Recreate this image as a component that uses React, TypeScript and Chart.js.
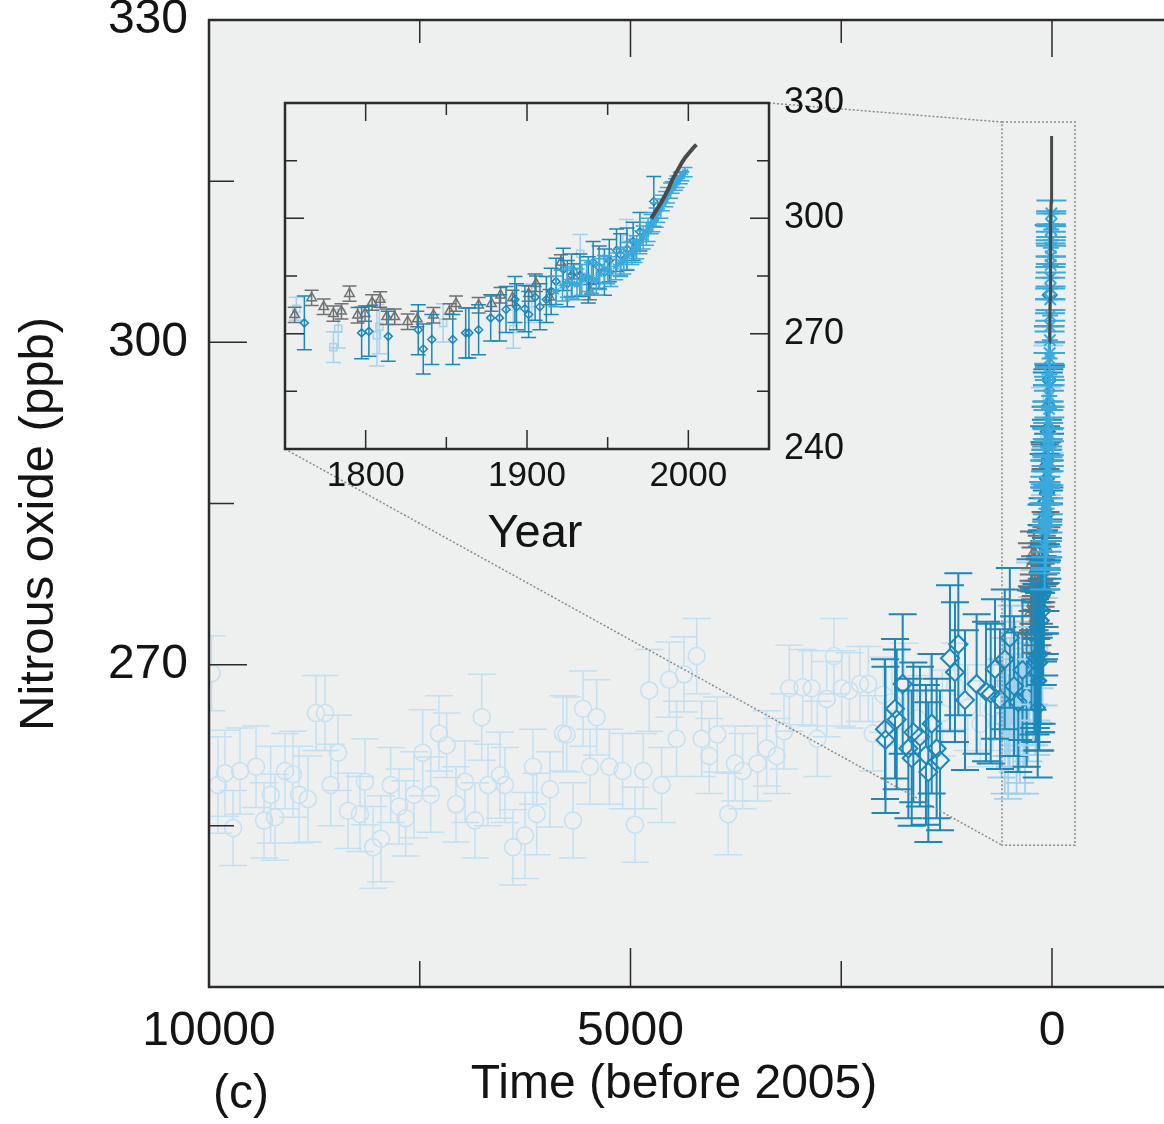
import React, { useEffect, useRef } from 'react';
import { Chart, registerables } from 'chart.js';

Chart.register(...registerables);

const FONT = '"Liberation Sans", Arial, Helvetica, sans-serif';
const TXT = '#141414';
const AXIS = '#2b2b2b';
const BG = '#eeefef';
const REF_YEAR = 2005;

const INSET_LEFT = 270;
const INSET_TOP = 60;

// ---------- axes ----------
const MAIN_X_MAX = 10000;
const MAIN_X_MIN = -961;
const Y_MIN = 240;
const Y_MAX = 330;
const mainXTicks = [7500, 5000, 2500, 0];
const mainXLabelled = [10000, 5000, 0];
const mainYTicks = [255, 270, 285, 300, 315];
const mainYLabelled = [270, 300, 330];
const insetXMin = 1750;
const insetXMax = 2050;
const insetXTicks = [1800, 1850, 1900, 1950, 2000];
const insetXLabelled = [1800, 1900, 2000];
const insetYTicks = [255, 270, 285, 300, 315];
const insetYLabelled = [240, 270, 300, 330];

// ---------- main chart data (years before 2005) ----------
// Holocene ice-core record (pale circles)
const holoceneBP = [9968, 9893, 9810, 9715, 9632, 9442, 9347, 9268, 9217, 9098, 9004, 8932, 8826, 8731, 8624, 8556, 8470, 8351, 8209, 8150, 8054, 7960, 7845, 7746, 7667, 7568, 7465, 7370, 7272, 7181, 7070, 6963, 6845, 6765, 6690, 6548, 6489, 6394, 6252, 6157, 6113, 5955, 5801, 5757, 5682, 5563, 5480, 5401, 5251, 5093, 4947, 4849, 4778, 4631, 4540, 4453, 4366, 4215, 4156, 4066, 3971, 3841, 3761, 3670, 3492, 3385, 3266, 3179, 3116, 2958, 2851, 2784, 2673, 2586, 2495, 2404, 2278, 2179, 2127, 2001, 1900, 1750, 1600, 1450, 1300, 1150, 1000, 850, 700];
const holocenePpb = [269.2, 258.8, 259.9, 254.8, 260.1, 260.5, 255.5, 257.9, 255.8, 260.1, 259.8, 257.9, 257.5, 265.5, 265.5, 258.8, 261.8, 256.4, 256.1, 259.1, 253.0, 253.8, 258.8, 256.8, 255.7, 257.9, 261.8, 257.9, 263.6, 262.5, 257.0, 259.1, 255.5, 265.1, 258.8, 259.7, 258.8, 253.0, 254.1, 260.5, 256.1, 258.4, 263.6, 263.5, 255.5, 265.9, 260.5, 265.1, 260.5, 260.1, 255.1, 260.1, 267.6, 258.8, 268.6, 263.1, 269.1, 270.8, 263.1, 261.5, 263.5, 256.1, 260.8, 260.1, 260.8, 262.2, 261.5, 263.8, 267.8, 267.9, 267.8, 263.1, 266.8, 270.8, 267.8, 267.6, 268.2, 268.2, 263.6, 267.2, 266.5, 268.0, 265.0, 267.0, 265.5, 268.0, 266.0, 264.5, 266.0];
const holoceneErr = [3.5, 4.5, 4.0, 3.5, 4.0, 3.8, 3.5, 4.5, 4.0, 3.5, 4.0, 4.5, 4.0, 3.5, 3.5, 3.8, 3.5, 3.5, 3.5, 4.0, 3.8, 4.0, 3.5, 3.5, 3.5, 4.0, 4.0, 3.5, 3.5, 3.0, 3.5, 3.8, 3.5, 4.0, 3.8, 4.0, 3.5, 3.5, 4.0, 3.5, 3.8, 3.5, 3.5, 3.5, 3.5, 3.5, 3.5, 3.5, 3.5, 3.5, 3.5, 3.5, 3.8, 3.5, 3.5, 3.5, 3.5, 3.5, 3.5, 3.5, 3.5, 3.8, 3.5, 3.5, 3.5, 3.5, 3.5, 3.5, 4.0, 3.5, 3.5, 3.5, 3.5, 3.5, 3.5, 3.5, 3.5, 3.5, 3.5, 3.5, 4.0, 4.0, 4.0, 4.0, 4.0, 4.0, 4.0, 4.0, 4.0];

// Late-Holocene record (dark diamonds)
const lateBP = [1981, 1975, 1862, 1842, 1771, 1704, 1664, 1645, 1566, 1495, 1467, 1427, 1368, 1328, 1210, 1151, 1111, 1032, 894, 783, 727, 676, 617, 560, 500, 450, 400, 350, 300];
const latePpb = [264.0, 263.0, 265.9, 264.9, 268.2, 262.2, 261.3, 263.7, 263.3, 261.6, 260.0, 264.5, 262.2, 261.1, 270.6, 269.3, 271.9, 266.7, 268.2, 267.5, 267.3, 269.6, 266.8, 270.5, 272.5, 268.0, 266.5, 269.5, 267.0];
const lateErr = [6.5, 6.8, 6.5, 6.5, 6.5, 6.5, 6.3, 6.5, 6.5, 6.5, 6.5, 6.5, 6.5, 6.5, 6.8, 6.5, 6.6, 6.5, 6.5, 6.5, 6.5, 6.5, 6.5, 6.5, 6.5, 6.5, 6.5, 6.5, 6.5];

// Pre-industrial cluster (pale squares)
const preindBP = [600, 580, 560, 540, 520, 500, 480, 460, 440, 420, 400, 380, 360, 340, 320, 300, 280, 265];
const preindPpb = [265.0, 268.5, 264.0, 267.0, 263.0, 266.5, 270.0, 265.5, 268.0, 263.5, 267.5, 265.0, 269.0, 266.0, 264.0, 268.0, 266.5, 270.0];
const preindErr = [5.5, 5.5, 6.0, 5.5, 5.5, 6.0, 5.5, 5.5, 6.0, 5.5, 5.5, 6.0, 5.5, 5.5, 6.0, 5.5, 5.5, 5.5];

// ---------- industrial era data (calendar years) ----------
const triYears = [1756, 1766.5, 1774, 1780, 1785, 1790, 1795, 1799.6, 1804, 1809, 1813, 1818, 1826, 1832, 1842, 1852, 1856, 1870, 1878, 1883.6, 1891, 1901, 1905.6, 1914, 1921, 1929, 1939];
const triPpb = [274.9, 279.3, 277.0, 275.2, 275.8, 280.4, 274.8, 275.2, 278.1, 278.9, 274.4, 274.4, 273.1, 273.8, 274.8, 275.8, 277.8, 277.4, 277.8, 280.0, 279.3, 280.4, 283.0, 279.5, 288.5, 286.2, 280.8];
const triErr = [2.0, 2.0, 2.0, 2.0, 2.0, 2.0, 2.0, 2.0, 2.0, 2.0, 2.0, 2.0, 2.0, 2.0, 2.0, 2.0, 2.0, 2.0, 2.0, 2.0, 2.0, 2.0, 2.0, 2.0, 2.0, 2.0, 2.0];

const dmdYears = [1762, 1797.5, 1802, 1814, 1832.6, 1835.7, 1841, 1854, 1862, 1864, 1870, 1877.5, 1883, 1887, 1892.5, 1893.5, 1898.7, 1901, 1905, 1908, 1912, 1915, 1918, 1922.5, 1925, 1927.6, 1932.8, 1938, 1941, 1944.7, 1948, 1951, 1955.5, 1958, 1962, 1965.8, 1970, 1978.6];
const dmdPpb = [272.8, 270.2, 270.6, 269.3, 271.0, 266.0, 268.5, 268.5, 270.2, 270.2, 271.0, 274.1, 274.1, 276.3, 278.9, 277.0, 276.5, 275.0, 279.5, 277.0, 278.9, 281.0, 283.6, 286.7, 283.0, 285.2, 285.2, 284.0, 288.5, 287.3, 286.0, 289.0, 291.7, 290.5, 292.0, 294.0, 296.5, 304.4];
const dmdErr = [7.0, 6.7, 6.5, 6.5, 6.5, 6.5, 6.5, 6.5, 6.5, 6.5, 6.5, 6.0, 6.0, 6.0, 6.0, 6.0, 6.0, 6.0, 6.0, 6.0, 6.0, 6.0, 6.0, 5.5, 6.0, 5.5, 5.5, 6.0, 5.5, 5.5, 6.0, 5.5, 5.5, 5.5, 5.5, 5.0, 5.0, 6.5];

const sqYears = [1757, 1780, 1783, 1807, 1808.5, 1848, 1891.5, 1903, 1933, 1961.7];
const sqPpb = [276.5, 266.5, 271.3, 269.6, 271.8, 272.8, 271.2, 277.9, 290.8, 294.7];
const sqErr = [3.0, 4.0, 5.0, 8.0, 7.0, 5.0, 5.0, 5.0, 5.0, 5.0];

const starYears = [1918, 1922, 1925, 1928, 1931, 1934, 1937, 1940, 1943, 1945, 1948, 1950, 1952, 1955, 1958, 1960, 1962, 1965, 1967, 1968, 1970, 1972, 1974, 1975, 1977, 1978, 1980, 1981, 1983, 1984, 1986, 1987, 1989, 1990, 1992, 1993, 1995, 1996, 1998];
const starPpb = [281.0, 282.5, 283.5, 283.0, 282.8, 284.0, 285.0, 284.5, 284.0, 285.5, 286.8, 286.5, 285.8, 287.5, 288.4, 289.0, 290.2, 291.0, 291.5, 292.5, 293.8, 295.0, 296.0, 297.0, 298.5, 299.0, 300.2, 301.5, 302.5, 304.0, 305.0, 306.0, 307.2, 308.0, 308.8, 309.5, 310.5, 311.0, 312.0];
const starErr = [4.0, 4.0, 4.0, 4.0, 4.0, 4.0, 4.0, 4.0, 4.0, 4.0, 3.5, 3.5, 3.5, 3.5, 3.5, 3.5, 3.5, 3.0, 3.0, 3.0, 3.0, 3.0, 3.0, 3.0, 2.5, 2.5, 2.5, 2.5, 2.5, 2.0, 2.0, 2.0, 2.0, 1.5, 1.5, 1.5, 1.5, 1.2, 1.2];

const lineYears = [1977, 1980, 1983, 1986, 1988, 1990, 1992, 1994, 1996, 1998, 2000, 2003, 2005];
const linePpb = [300.0, 302.0, 304.0, 306.3, 308.0, 310.0, 311.5, 313.0, 314.5, 315.8, 316.8, 318.3, 319.2];

// zoom box in the main panel (years before 2005, ppb)
const zoomBoxBP = [593, -273];
const zoomBoxPpb = [253.2, 320.5];

// ---------- colours ----------
const C_PALE = '#c3e0f1';
const C_PREIND = '#a0d0ec';
const C_DARK = '#1c87b9';
const C_CYAN = '#3aa9dc';
const C_GRAY = '#717171';
const C_LINE = '#4a4a4a';
const C_SQ = '#a5d2ec';

const pts = (xs: number[], ys: number[]) => xs.map((x, i) => ({ x, y: ys[i] }));
const toBP = (years: number[]) => years.map((y) => REF_YEAR - y);

function markerSet(opts: any) {
  return {
    type: 'scatter',
    showLine: false,
    pointStyle: opts.style,
    pointRadius: opts.r,
    pointHoverRadius: opts.r,
    pointBorderColor: opts.color,
    pointBackgroundColor: 'rgba(0,0,0,0)',
    pointBorderWidth: opts.bw,
    borderColor: opts.color,
    backgroundColor: 'rgba(0,0,0,0)',
    data: opts.data,
    errors: opts.err,
    capHalf: opts.cap,
    errGap: opts.gap || 0,
    errWidth: opts.ew,
    order: opts.order,
  } as any;
}

const errorBarPlugin = {
  id: 'errorBars',
  beforeDatasetDraw(chart: any, args: any) {
    const ds = chart.data.datasets[args.index];
    if (!ds.errors) return;
    const { ctx, chartArea: a } = chart;
    const xs = chart.scales.x;
    const ys = chart.scales.y;
    ctx.save();
    ctx.beginPath();
    ctx.rect(a.left, a.top, a.right - a.left, a.bottom - a.top);
    ctx.clip();
    ctx.strokeStyle = ds.borderColor;
    ctx.lineWidth = ds.errWidth;
    ds.data.forEach((p: any, i: number) => {
      const e = ds.errors[i];
      const px = xs.getPixelForValue(p.x);
      const py = ys.getPixelForValue(p.y);
      const yt = ys.getPixelForValue(p.y + e);
      const yb = ys.getPixelForValue(p.y - e);
      const c = ds.capHalf;
      const g = ds.errGap;
      ctx.beginPath();
      if (g > 0) {
        if (py - g > yt) { ctx.moveTo(px, yt); ctx.lineTo(px, py - g); }
        if (py + g < yb) { ctx.moveTo(px, py + g); ctx.lineTo(px, yb); }
      } else {
        ctx.moveTo(px, yt);
        ctx.lineTo(px, yb);
      }
      ctx.moveTo(px - c, yt); ctx.lineTo(px + c, yt);
      ctx.moveTo(px - c, yb); ctx.lineTo(px + c, yb);
      ctx.stroke();
    });
    ctx.restore();
  },
};

function bgPlugin(extendRight: boolean) {
  return {
    id: 'plotBg',
    beforeDraw(chart: any) {
      const { ctx, chartArea: a } = chart;
      ctx.save();
      ctx.fillStyle = BG;
      ctx.fillRect(a.left, a.top, (extendRight ? chart.width : a.right) - a.left, a.bottom - a.top);
      ctx.restore();
    },
  };
}

function mainConfig(insetBox: { left: number; top: number; right: number; bottom: number }): any {
  const framePlugin = {
    id: 'mainFrame',
    afterDraw(chart: any) {
      const { ctx, chartArea: a } = chart;
      const x = chart.scales.x;
      const y = chart.scales.y;
      ctx.save();
      // zoom box and connectors
      ctx.strokeStyle = '#8a8a8a';
      ctx.lineWidth = 1.5;
      ctx.setLineDash([2, 2]);
      const bl = x.getPixelForValue(zoomBoxBP[0]);
      const br = x.getPixelForValue(zoomBoxBP[1]);
      const bt = y.getPixelForValue(zoomBoxPpb[1]);
      const bb = y.getPixelForValue(zoomBoxPpb[0]);
      ctx.strokeRect(bl, bt, br - bl, bb - bt);
      ctx.beginPath();
      ctx.moveTo(insetBox.right, insetBox.top);
      ctx.lineTo(bl, bt);
      ctx.moveTo(insetBox.left, insetBox.bottom);
      ctx.lineTo(bl, bb);
      ctx.stroke();
      ctx.setLineDash([]);

      // axis lines (left, top, bottom)
      ctx.strokeStyle = AXIS;
      ctx.lineWidth = 2.5;
      ctx.beginPath();
      ctx.moveTo(chart.width, a.top);
      ctx.lineTo(a.left, a.top);
      ctx.lineTo(a.left, a.bottom);
      ctx.lineTo(chart.width, a.bottom);
      ctx.stroke();

      // inward tick marks
      ctx.lineWidth = 1.5;
      ctx.beginPath();
      mainXTicks.forEach((v) => {
        const px = x.getPixelForValue(v);
        const long = mainXLabelled.includes(v);
        ctx.moveTo(px, a.top);
        ctx.lineTo(px, a.top + (long ? 37 : 23));
        ctx.moveTo(px, a.bottom);
        ctx.lineTo(px, a.bottom - (long ? 39 : 26));
      });
      mainYTicks.forEach((v) => {
        const py = y.getPixelForValue(v);
        const long = mainYLabelled.includes(v);
        ctx.moveTo(a.left, py);
        ctx.lineTo(a.left + (long ? 38 : 25), py);
      });
      ctx.stroke();

      // axis titles
      ctx.fillStyle = TXT;
      ctx.font = `48px ${FONT}`;
      ctx.textAlign = 'center';
      ctx.textBaseline = 'alphabetic';
      ctx.fillText('Time (before 2005)', 674, 1098);
      ctx.textAlign = 'left';
      ctx.fillText('(c)', 213, 1108);
      ctx.save();
      ctx.translate(53, 524);
      ctx.rotate(-Math.PI / 2);
      ctx.textAlign = 'center';
      ctx.font = `49px ${FONT}`;
      ctx.fillText('Nitrous oxide (ppb)', 0, 0);
      ctx.restore();
      ctx.restore();
    },
  };

  const datasets = [
    { type: 'scatter', showLine: true, data: pts(toBP(lineYears), linePpb), borderColor: C_LINE, borderWidth: 3, pointRadius: 0, pointHoverRadius: 0, order: 0 },
    markerSet({ style: 'star', r: 8, color: C_CYAN, bw: 2, data: pts(toBP(starYears), starPpb), err: starErr, cap: 15, ew: 2, order: 1 }),
    markerSet({ style: 'rectRot', r: 7, color: C_DARK, bw: 2, data: pts(toBP(dmdYears), dmdPpb), err: dmdErr, cap: 15, ew: 2, order: 2 }),
    markerSet({ style: 'triangle', r: 7, color: C_GRAY, bw: 1.5, data: pts(toBP(triYears), triPpb), err: triErr, cap: 14, ew: 2, order: 3 }),
    markerSet({ style: 'rect', r: 7, color: C_SQ, bw: 1.5, data: pts(toBP(sqYears), sqPpb), err: sqErr, cap: 15, ew: 2, order: 4 }),
    markerSet({ style: 'rectRot', r: 9, color: C_DARK, bw: 2, data: pts(lateBP, latePpb), err: lateErr, cap: 14, ew: 2, gap: 9, order: 5 }),
    markerSet({ style: 'rect', r: 8, color: C_PREIND, bw: 1.5, data: pts(preindBP, preindPpb), err: preindErr, cap: 14, ew: 1.8, order: 6 }),
    markerSet({ style: 'circle', r: 8.5, color: C_PALE, bw: 1.5, data: pts(holoceneBP, holocenePpb), err: holoceneErr, cap: 14, ew: 1.5, gap: 8.5, order: 7 }),
  ];

  return {
    type: 'scatter',
    data: { datasets },
    options: {
      animation: false,
      responsive: false,
      maintainAspectRatio: false,
      events: [],
      layout: { padding: { left: 0, top: 20, right: 31, bottom: 0 } },
      plugins: { legend: { display: false }, tooltip: { enabled: false } },
      scales: {
        x: {
          type: 'linear',
          reverse: true,
          min: MAIN_X_MIN,
          max: MAIN_X_MAX,
          grid: { display: false, drawTicks: false },
          border: { display: false },
          afterBuildTicks: (s: any) => { s.ticks = mainXLabelled.map((v) => ({ value: v })); },
          ticks: { font: { family: FONT, size: 48 }, color: TXT, padding: 16, maxRotation: 0, autoSkip: false, callback: (v: any) => String(v) },
          afterFit: (s: any) => { s.height = 137; s.paddingLeft = 0; s.paddingRight = 0; },
        },
        y: {
          type: 'linear',
          min: Y_MIN,
          max: Y_MAX,
          grid: { display: false, drawTicks: false },
          border: { display: false },
          afterBuildTicks: (s: any) => { s.ticks = mainYLabelled.map((v) => ({ value: v })); },
          ticks: { font: { family: FONT, size: 48 }, color: TXT, padding: 21, autoSkip: false, callback: (v: any) => String(v) },
          afterFit: (s: any) => { s.width = 209; s.paddingTop = 0; s.paddingBottom = 0; },
        },
      },
    },
    plugins: [bgPlugin(true), errorBarPlugin, framePlugin],
  };
}

function insetConfig(): any {
  const framePlugin = {
    id: 'insetFrame',
    afterDraw(chart: any) {
      const { ctx, chartArea: a } = chart;
      const x = chart.scales.x;
      const y = chart.scales.y;
      ctx.save();
      ctx.strokeStyle = AXIS;
      ctx.lineWidth = 2.5;
      ctx.strokeRect(a.left, a.top, a.right - a.left, a.bottom - a.top);
      ctx.lineWidth = 1.5;
      ctx.beginPath();
      insetXTicks.forEach((v) => {
        const px = x.getPixelForValue(v);
        const long = insetXLabelled.includes(v);
        ctx.moveTo(px, a.top);
        ctx.lineTo(px, a.top + (long ? 18 : 12));
        ctx.moveTo(px, a.bottom);
        ctx.lineTo(px, a.bottom - (long ? 19 : 12));
      });
      insetYTicks.forEach((v) => {
        const py = y.getPixelForValue(v);
        const long = insetYLabelled.includes(v);
        ctx.moveTo(a.left, py);
        ctx.lineTo(a.left + (long ? 19 : 12), py);
        ctx.moveTo(a.right, py);
        ctx.lineTo(a.right - (long ? 19 : 12), py);
      });
      ctx.stroke();
      ctx.fillStyle = TXT;
      ctx.font = `47px ${FONT}`;
      ctx.textAlign = 'center';
      ctx.textBaseline = 'alphabetic';
      ctx.fillText('Year', 535 - INSET_LEFT, 547 - INSET_TOP);
      ctx.restore();
    },
  };

  const datasets = [
    { type: 'scatter', showLine: true, data: pts(lineYears, linePpb), borderColor: C_LINE, borderWidth: 4, pointRadius: 0, pointHoverRadius: 0, order: 0 },
    markerSet({ style: 'star', r: 4, color: C_CYAN, bw: 1.5, data: pts(starYears, starPpb), err: starErr, cap: 7.5, ew: 1.5, order: 1 }),
    markerSet({ style: 'rectRot', r: 4, color: C_DARK, bw: 1.5, data: pts(dmdYears, dmdPpb), err: dmdErr, cap: 7.5, ew: 1.5, order: 2 }),
    markerSet({ style: 'triangle', r: 5.5, color: C_GRAY, bw: 1.5, data: pts(triYears, triPpb), err: triErr, cap: 7, ew: 1.5, order: 3 }),
    markerSet({ style: 'rect', r: 5, color: C_SQ, bw: 1.5, data: pts(sqYears, sqPpb), err: sqErr, cap: 7.5, ew: 1.5, order: 4 }),
  ];

  return {
    type: 'scatter',
    data: { datasets },
    options: {
      animation: false,
      responsive: false,
      maintainAspectRatio: false,
      events: [],
      layout: { padding: { left: 15, top: 103 - INSET_TOP, right: 0, bottom: 0 } },
      plugins: { legend: { display: false }, tooltip: { enabled: false } },
      scales: {
        x: {
          type: 'linear',
          min: insetXMin,
          max: insetXMax,
          grid: { display: false, drawTicks: false },
          border: { display: false },
          afterBuildTicks: (s: any) => { s.ticks = insetXLabelled.map((v) => ({ value: v })); },
          ticks: { font: { family: FONT, size: 35 }, color: TXT, padding: 6, maxRotation: 0, autoSkip: false, callback: (v: any) => String(v) },
          afterFit: (s: any) => { s.height = 121; s.paddingLeft = 0; s.paddingRight = 0; },
        },
        y: {
          type: 'linear',
          position: 'right',
          min: Y_MIN,
          max: Y_MAX,
          grid: { display: false, drawTicks: false },
          border: { display: false },
          afterBuildTicks: (s: any) => { s.ticks = insetYLabelled.map((v) => ({ value: v })); },
          ticks: { font: { family: FONT, size: 36 }, color: TXT, padding: 15, autoSkip: false, callback: (v: any) => String(v) },
          afterFit: (s: any) => { s.width = 101; s.paddingTop = 0; s.paddingBottom = 0; },
        },
      },
    },
    plugins: [bgPlugin(false), errorBarPlugin, framePlugin],
  };
}

export default function App() {
  const mainRef = useRef<HTMLCanvasElement>(null);
  const insetRef = useRef<HTMLCanvasElement>(null);

  useEffect(() => {
    const inset = new Chart(insetRef.current as HTMLCanvasElement, insetConfig());
    const ia = inset.chartArea;
    const box = {
      left: INSET_LEFT + ia.left,
      top: INSET_TOP + ia.top,
      right: INSET_LEFT + ia.right,
      bottom: INSET_TOP + ia.bottom,
    };
    const main = new Chart(mainRef.current as HTMLCanvasElement, mainConfig(box));
    return () => {
      main.destroy();
      inset.destroy();
    };
  }, []);

  return (
    <div style={{ position: 'absolute', left: 0, top: 0, width: 1164, height: 1124, overflow: 'hidden', background: '#ffffff' }}>
      <canvas ref={mainRef} width={1164} height={1124} style={{ position: 'absolute', left: 0, top: 0, width: 1164, height: 1124 }} />
      <canvas ref={insetRef} width={600} height={510} style={{ position: 'absolute', left: INSET_LEFT, top: INSET_TOP, width: 600, height: 510 }} />
    </div>
  );
}
